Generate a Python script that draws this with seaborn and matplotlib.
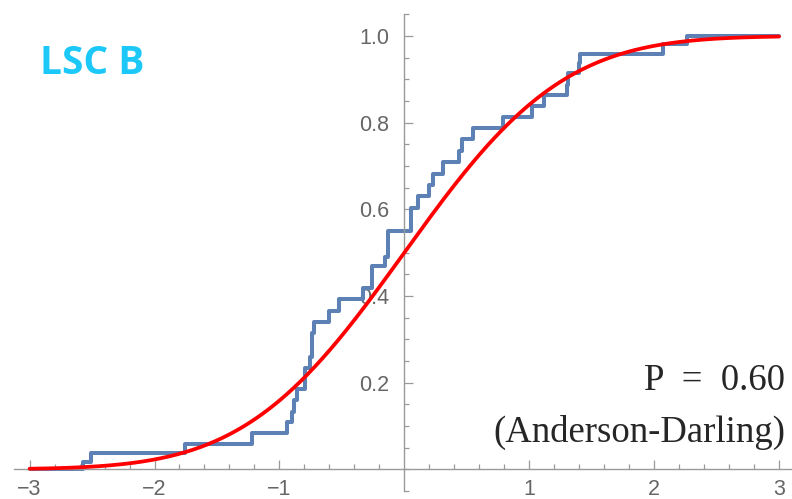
import math
import numpy as np
import pandas as pd
import seaborn as sns
import matplotlib.pyplot as plt

sns.set_style("white")
plt.rcParams["font.family"] = ["Liberation Sans", "DejaVu Sans"]

# Empirical CDF: jump locations and the level reached after each jump
jump_x = [-2.575, -2.51, -1.757, -1.223, -0.941, -0.901, -0.88, -0.862,
          -0.795, -0.755, -0.741, -0.72, -0.603, -0.52, -0.328, -0.261,
          -0.155, -0.128, 0.054, 0.107, 0.198, 0.232, 0.312, 0.438, 0.459,
          0.548, 0.788, 1.02, 1.118, 1.305, 1.31, 1.398, 1.406, 2.068, 2.26]
jump_level = [0.0166, 0.037, 0.058, 0.083, 0.109, 0.133, 0.160, 0.185,
              0.233, 0.26, 0.314, 0.339, 0.366, 0.393, 0.418, 0.47,
              0.49, 0.551, 0.602, 0.631, 0.656, 0.682, 0.709, 0.735, 0.762,
              0.787, 0.8125, 0.8385, 0.864, 0.887, 0.914, 0.937, 0.958, 0.982, 1.0]

# Reference normal distribution
mu, sigma = 0.0, 1.0
x_range = (-3.0, 3.0)

x_ticks = [-3, -2, -1, 1, 2, 3]
y_ticks = [0.2, 0.4, 0.6, 0.8, 1.0]
y_tick_labels = ["0.2", "0.4", "0.6", "0.8", "1.0"]

title_text = "LSC B"
p_text = "P  =  0.60"
test_text = "(Anderson-Darling)"

ecdf = pd.DataFrame({
    "x": [x_range[0]] + jump_x + [x_range[1]],
    "F": [0.0] + jump_level + [1.0],
})
grid = np.linspace(x_range[0], x_range[1], 500)
cdf = pd.DataFrame({
    "x": grid,
    "F": [0.5 * (1 + math.erf((v - mu) / (sigma * math.sqrt(2)))) for v in grid],
})

fig = plt.figure(figsize=(7.92, 4.99), dpi=100)
ax = fig.add_axes([14 / 792, 8 / 499, 778 / 792, 477 / 499])

sns.lineplot(data=ecdf, x="x", y="F", drawstyle="steps-post", color="#5E81B5",
             lw=2.9, estimator=None, sort=False, ax=ax, zorder=2)
sns.lineplot(data=cdf, x="x", y="F", color="#FF0000", lw=2.7,
             estimator=None, sort=False, ax=ax, zorder=3)

ax.set_xlim(-3.125, 3.104)
ax.set_ylim(-0.0496, 1.0507)
ax.set_xlabel("")
ax.set_ylabel("")

axis_gray = "#9a9a9a"
for side in ("top", "right"):
    ax.spines[side].set_visible(False)
ax.spines["left"].set_position(("data", 0))
ax.spines["bottom"].set_position(("data", 0))
for side in ("left", "bottom"):
    ax.spines[side].set_color(axis_gray)
    ax.spines[side].set_linewidth(1.0)

ax.set_xticks(x_ticks)
ax.set_xticklabels([f"\u2212{abs(t)}" if t < 0 else str(t) for t in x_ticks])
ax.set_xticks([round(v, 1) for v in np.arange(-3.0, 3.01, 0.2)
               if abs(v - round(v)) > 1e-6], minor=True)
ax.set_yticks(y_ticks)
ax.set_yticklabels(y_tick_labels)
ax.set_yticks([round(v, 2) for v in np.arange(-0.05, 1.06, 0.05)
               if min(abs(v - t) for t in y_ticks) > 1e-6], minor=True)

ax.tick_params(which="both", direction="in", bottom=True, left=True,
               top=False, right=False, color=axis_gray, width=0.9,
               labelcolor="#666666", labelsize=15.5)
ax.tick_params(which="major", length=6.5)
ax.tick_params(which="minor", length=3.5)
ax.tick_params(axis="x", which="both", pad=7)
ax.tick_params(axis="y", which="both", pad=11)

fig.text(40 / 792, 1 - 74 / 499, title_text, color="#1CC8F8", fontsize=28,
         fontweight="bold", family=["Open Sans", "DejaVu Sans"],
         ha="left", va="baseline")
fig.text(785 / 792, 1 - 390 / 499, p_text, fontsize=26.5,
         family=["Liberation Serif", "DejaVu Serif"], ha="right", va="baseline")
fig.text(785 / 792, 1 - 442 / 499, test_text, fontsize=26.5,
         family=["Liberation Serif", "DejaVu Serif"], ha="right", va="baseline")

fig.savefig("out.png", dpi=100)
